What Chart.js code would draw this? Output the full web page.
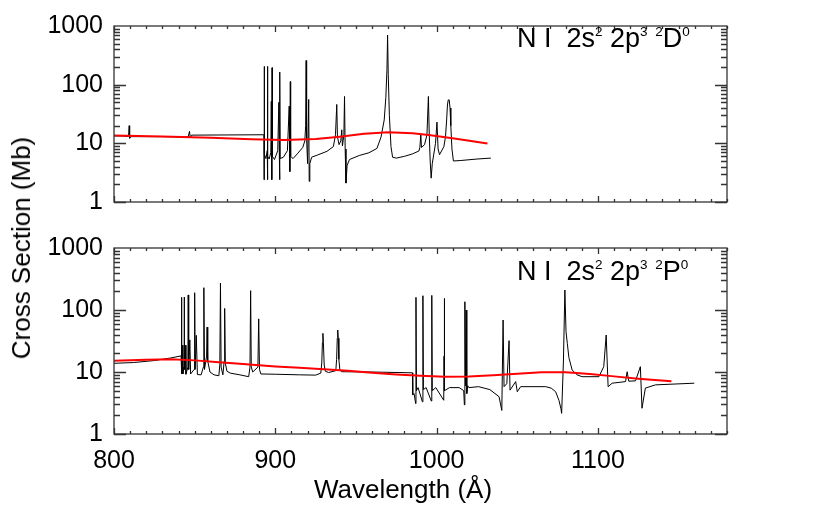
<!DOCTYPE html>
<html lang="en">
<head>
<meta charset="UTF-8">
<style>
  body { margin: 0; background: #fff; }
  #wrap { position: relative; width: 830px; height: 528px; font-family: "Liberation Sans", Arial, sans-serif; color: #000; }
  canvas { position: absolute; left: 0; top: 0; }
  .lbl { position: absolute; white-space: nowrap; }
  .note { font-size: 27px; line-height: 27px; }
  .sup { position: relative; top: -0.8em; font-size: 0.5em; }
  .axt { font-size: 26px; line-height: 26px; }
</style>
</head>
<body>
<div id="wrap">
  <canvas id="topChart" width="830" height="528"></canvas>
  <canvas id="botChart" width="830" height="528"></canvas>
  <div class="lbl note" style="left:517px; top:25px;">N I&nbsp; 2s<span class="sup">2</span> 2p<span class="sup">3</span> <span class="sup">2</span>D<span class="sup">0</span></div>
  <div class="lbl note" style="left:517px; top:258px;">N I&nbsp; 2s<span class="sup">2</span> 2p<span class="sup">3</span> <span class="sup">2</span>P<span class="sup">0</span></div>
  <div class="lbl axt" style="left:403px; top:476px; transform: translateX(-50%);">Wavelength (Å)</div>
  <div class="lbl axt" style="left:21px; top:248px; transform: translate(-50%, -50%) rotate(-90deg);">Cross Section (Mb)</div>
</div>

<script src="https://cdn.jsdelivr.net/npm/chart.js"></script>
<script>
// wavelength range and log cross-section range
const xMin = 800, xMax = 1180;
const yMin = 1, yMax = 1000;
const xTickValues = [800, 900, 1000, 1100];
const yTickValues = [1, 10, 100, 1000];
const yTickLabels = ['1', '10', '100', '1000'];

// upper panel: 2D0
const topWave = [
  800.0, 805.0, 809.0, 809.4, 809.7, 810.5, 830.0, 846.0, 846.8, 847.3, 848.0, 870.0,
  892.9, 893.0, 893.1, 893.3, 894.2, 895.0, 895.1, 895.2, 895.4, 896.2, 897.2, 897.5,
  897.7, 897.9, 898.0, 898.2, 899.5, 901.5, 902.2, 902.5, 902.7, 902.8, 903.0, 905.0,
  907.5, 908.6, 908.9, 909.1, 909.3, 909.5, 911.0, 914.0, 917.0, 918.3, 918.8, 919.1,
  919.4, 920.0, 920.7, 921.0, 921.4, 922.5, 926.0, 932.0, 936.0, 937.3, 938.1, 938.5,
  939.5, 940.6, 941.2, 941.6, 942.5, 942.9, 943.3, 943.8, 944.5, 946.0, 952.0, 958.0,
  963.0, 965.5, 967.5, 968.5, 969.2, 969.6, 970.0, 970.7, 971.7, 972.7, 975.0, 980.0,
  985.0, 989.0, 989.6, 990.2, 990.6, 992.5, 994.0, 994.9, 995.4, 996.0, 996.6, 997.3,
  999.3, 1000.2, 1000.9, 1001.8, 1004.5, 1005.5, 1006.2, 1006.7, 1007.2, 1007.8, 1008.3, 1008.8,
  1009.5, 1010.4, 1015.0, 1025.0, 1033.6
];
const topCross = [
  13.4, 13.3, 13.1, 20, 12.2, 13.0, 13.0, 12.8, 16, 12.4, 13.8, 13.9,
  14.0, 2.4, 205, 6.5, 5.5, 7.5, 2.4, 205, 6.0, 5.4, 7.0, 52,
  6.0, 2.4, 195, 6.0, 5.3, 7.5, 50, 6.0, 2.4, 164, 5.5, 5.8,
  7.5, 43, 9.0, 3.3, 113, 6.0, 5.5, 6.8, 8.5, 11, 20, 258,
  12, 4.5, 56, 2.25, 4.5, 5.8, 6.3, 7.3, 8.8, 14, 46, 13,
  9.5, 11, 17, 9.0, 14, 63, 8.0, 2.1, 4.2, 5.3, 6.2, 6.9,
  8.2, 12.7, 25, 60, 180, 700, 150, 30, 8.8, 5.8, 5.6, 6.0,
  6.6, 7.4, 8.5, 14, 8.5, 9.5, 14, 63, 15, 5.0, 2.55, 4.5,
  10, 23, 8.0, 6.4, 8.8, 13, 25, 45, 55, 55, 40, 20,
  8.0, 5.0, 5.1, 5.4, 5.6
];
const topFitWave = [800, 830, 860, 885, 905, 925, 940, 955, 970, 985, 995, 1002, 1013, 1031.5];
const topFitCross = [13.6, 13.1, 12.4, 11.7, 11.4, 11.8, 13.0, 14.5, 15.5, 14.8, 13.9, 13.1, 11.9, 9.9];

// lower panel: 2P0
const botWave = [
  800.0, 812.0, 825.0, 835.0, 841.6, 841.8, 841.9, 842.1, 842.4, 842.7, 843.4, 843.5,
  843.7, 844.2, 844.6, 845.8, 846.0, 846.3, 847.0, 847.5, 849.7, 850.0, 850.3, 851.0,
  851.7, 854.0, 855.4, 855.7, 856.1, 857.4, 857.7, 858.1, 859.5, 862.0, 865.0, 865.6,
  866.0, 866.4, 867.5, 868.3, 868.6, 869.0, 870.0, 872.0, 878.0, 883.5, 884.3, 884.7,
  885.1, 886.0, 889.2, 889.7, 890.2, 891.0, 900.0, 915.0, 925.0, 928.2, 928.8, 929.2,
  929.5, 929.8, 930.3, 931.0, 933.0, 937.5, 938.0, 938.4, 938.7, 939.0, 939.4, 940.0,
  941.0, 960.0, 985.0, 985.2, 986.0, 987.0, 987.2, 987.5, 988.5, 991.2, 991.5, 991.8,
  993.5, 996.7, 997.0, 997.3, 999.5, 1004.4, 1004.6, 1004.7, 1005.0, 1008.0, 1014.0, 1016.8,
  1017.2, 1017.5, 1017.9, 1018.3, 1018.7, 1019.3, 1020.0, 1026.0, 1033.0, 1038.7, 1040.4, 1041.2,
  1041.8, 1043.5, 1044.9, 1045.5, 1049.0, 1050.0, 1052.1, 1067.6, 1071.0, 1073.8, 1075.8, 1077.0,
  1077.5, 1078.6, 1079.5, 1080.2, 1081.0, 1082.0, 1084.0, 1087.0, 1090.2, 1100.6, 1103.6, 1105.1,
  1106.3, 1108.8, 1117.1, 1118.1, 1119.1, 1123.3, 1126.3, 1127.3, 1129.4, 1135.6, 1159.7
];
const botCross = [
  13.8, 14.2, 15.3, 16.8, 18.2, 9.3, 160, 12, 27, 9.3, 12, 162,
  11, 27, 9.2, 12, 175, 11, 33, 9.3, 11, 190, 11, 39,
  9.1, 9.0, 12, 229, 11, 18, 53, 15, 10, 9.0, 8.7, 13,
  272, 12, 9.0, 15, 106, 14, 10.3, 9.6, 9.0, 8.4, 12, 205,
  12, 10, 12, 72, 11, 9.3, 9.2, 9.0, 8.9, 9.6, 14, 30,
  42, 30, 13, 10.3, 9.8, 10.5, 16, 35, 47.6, 35, 16, 11,
  10.1, 10.0, 9.7, 4.3, 4.5, 3.1, 160, 5.0, 5.6, 3.3, 170, 5.2,
  5.6, 3.4, 172, 5.0, 5.6, 3.5, 18, 154, 5.0, 5.6, 5.6, 5.0,
  2.95, 136, 6.0, 100, 4.5, 6.0, 5.6, 5.8, 5.2, 4.0, 2.4, 69,
  5.8, 6.5, 32, 5.1, 7.0, 4.8, 5.8, 5.8, 5.5, 4.8, 3.5, 2.6,
  2.15, 15, 210, 45, 29, 17, 10.8, 9.0, 8.4, 8.4, 12.2, 39.5,
  5.8, 6.6, 7.0, 10.1, 7.1, 7.2, 12.2, 2.6, 5.5, 6.2, 6.6
];
const botFitWave = [800, 820, 835, 850, 865, 880, 900, 915, 930, 945, 960, 975, 990, 1005, 1020, 1035, 1050, 1065, 1080, 1095, 1110, 1125, 1145.5];
const botFitCross = [15.2, 15.8, 16.0, 15.4, 14.4, 13.4, 12.3, 11.7, 11.1, 10.5, 9.7, 9.1, 8.7, 8.4, 8.5, 8.9, 9.4, 9.9, 9.9, 9.3, 8.5, 7.8, 7.1];

const toPoints = (xs, ys) => xs.map((x, i) => ({ x: x, y: ys[i] }));

// IDL-style box with inward ticks on all four sides
const frameTicks = {
  id: 'frameTicks',
  afterDatasetsDraw(chart) {
    const { ctx, chartArea: a, scales: { x, y } } = chart;
    ctx.save();
    ctx.strokeStyle = '#333';
    ctx.lineWidth = 1.3;
    ctx.strokeRect(a.left, a.top, a.right - a.left, a.bottom - a.top);
    ctx.beginPath();
    for (let v = xMin; v <= xMax; v += 10) {
      const px = Math.round(x.getPixelForValue(v)) + 0.5;
      const len = v % 100 === 0 ? 6 : 3;
      ctx.moveTo(px, a.bottom); ctx.lineTo(px, a.bottom - len);
      ctx.moveTo(px, a.top); ctx.lineTo(px, a.top + len);
    }
    for (let d = yMin; d < yMax; d *= 10) {
      for (let m = 1; m <= 9; m++) {
        const py = Math.round(y.getPixelForValue(d * m)) + 0.5;
        const len = m === 1 ? 12 : 6;
        ctx.moveTo(a.left, py); ctx.lineTo(a.left + len, py);
        ctx.moveTo(a.right, py); ctx.lineTo(a.right - len, py);
      }
    }
    ctx.stroke();
    ctx.restore();
  }
};

function makePanel(id, wave, cross, fitWave, fitCross, top, bottom, showX) {
  return new Chart(document.getElementById(id), {
    type: 'line',
    data: {
      datasets: [{
        data: toPoints(fitWave, fitCross),
        borderColor: '#ff0000',
        borderWidth: 2,
        pointRadius: 0,
        tension: 0
      }, {
        data: toPoints(wave, cross),
        borderColor: '#000',
        borderWidth: 1,
        pointRadius: 0,
        tension: 0
      }]
    },
    options: {
      responsive: false,
      animation: false,
      layout: { padding: { left: 0, top: top, right: 103, bottom: 0 } },
      plugins: { legend: { display: false }, tooltip: { enabled: false } },
      scales: {
        x: {
          type: 'linear',
          min: xMin,
          max: xMax,
          grid: { display: false, drawTicks: false },
          border: { display: false },
          ticks: {
            display: showX,
            autoSkip: false,
            padding: 12,
            color: '#000',
            font: { family: 'Liberation Sans', size: 25 },
            callback: (v) => String(v)
          },
          afterBuildTicks: (s) => { s.ticks = xTickValues.map(v => ({ value: v })); },
          afterFit: (s) => { s.height = 528 - bottom; }
        },
        y: {
          type: 'logarithmic',
          min: yMin,
          max: yMax,
          grid: { display: false, drawTicks: false },
          border: { display: false },
          ticks: {
            autoSkip: false,
            padding: 11,
            color: '#000',
            font: { family: 'Liberation Sans', size: 25 },
            callback: (v) => {
              const i = yTickValues.indexOf(v);
              return i >= 0 ? yTickLabels[i] : '';
            }
          },
          afterBuildTicks: (s) => { s.ticks = yTickValues.map(v => ({ value: v })); },
          afterFit: (s) => { s.width = 114; }
        }
      }
    },
    plugins: [frameTicks]
  });
}

makePanel('topChart', topWave, topCross, topFitWave, topFitCross, 15, 202, false);
makePanel('botChart', botWave, botCross, botFitWave, botFitCross, 248, 434, true);
</script>
</body>
</html>
